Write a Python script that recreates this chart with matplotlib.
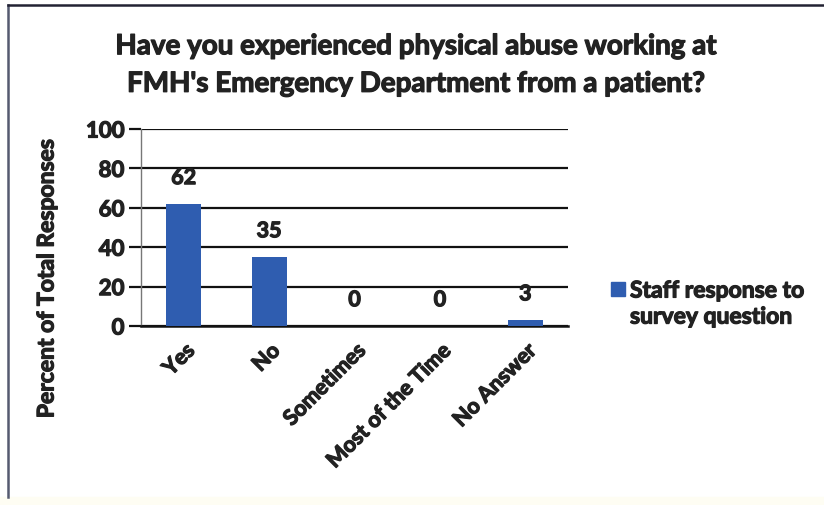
import matplotlib
matplotlib.use("Agg")
import matplotlib.pyplot as plt
import matplotlib.patheffects as pe
from matplotlib.patches import Rectangle
from matplotlib.lines import Line2D

categories = ["Yes", "No", "Sometimes", "Most of the Time", "No Answer"]
values = [62, 35, 0, 0, 3]
yticks = [0, 20, 40, 60, 80, 100]
title = "Have you experienced physical abuse working at\nFMH's Emergency Department from a patient?"
series_name = "Staff response to\nsurvey question"

plt.rcParams["font.family"] = ["Lato", "DejaVu Sans"]
plt.rcParams["font.weight"] = "bold"

txt_color = "#222222"
# scanned text looks heavier than a plain bold face
heavy = [pe.withStroke(linewidth=0.9, foreground=txt_color)]

W, H = 824, 506
fig = plt.figure(figsize=(W / 100, H / 100), dpi=100)
fig.patch.set_facecolor("white")

# plot area in pixel coordinates (left, top, right, bottom)
px_l, px_t, px_r, px_b = 141, 130, 568, 327
ax = fig.add_axes([px_l / W, 1 - px_b / H, (px_r - px_l) / W, (px_b - px_t) / H])

bar_color = "#2F5DB0"
x = range(len(categories))
ax.bar(x, values, width=0.41, color=bar_color, zorder=3)
ax.set_xlim(-0.5, len(categories) - 0.5)
ax.set_ylim(0, 100)

for xi, v in zip(x, values):
    ax.text(xi, v + 8, str(v), ha="center", va="bottom", fontsize=15.5,
            fontweight="bold", color=txt_color, path_effects=heavy)

ax.set_yticks(yticks)
ax.set_yticklabels([str(t) for t in yticks], fontsize=16, fontweight="bold", color=txt_color,
                   path_effects=heavy)
ax.tick_params(axis="y", length=9, width=1.6, color="#111111", pad=3)
ax.tick_params(axis="x", length=0, pad=10)
ax.set_xticks(list(x))
ax.set_xticklabels(categories, rotation=45, ha="right", rotation_mode="anchor",
                   fontsize=15.5, fontweight="bold", color=txt_color, path_effects=heavy)

ax.grid(axis="y", color="#111111", linewidth=1.6, zorder=0)
for s in ["top", "right"]:
    ax.spines[s].set_visible(False)
ax.spines["left"].set_color("#777777")
ax.spines["left"].set_linewidth(1.0)
ax.spines["bottom"].set_color("#111111")
ax.spines["bottom"].set_linewidth(1.8)

fig.text(47 / W, 1 - 280 / H, "Percent of Total Responses", rotation=90,
         ha="center", va="center", fontsize=16.5, fontweight="bold", color=txt_color,
         path_effects=heavy)

fig.text(416 / W, 1 - 66 / H, title, ha="center", va="center", fontsize=20,
         fontweight="bold", color=txt_color, linespacing=1.55, path_effects=heavy)

# legend
fig.patches.append(Rectangle((611 / W, 1 - 297 / H), 14 / W, 14 / H,
                             transform=fig.transFigure, color=bar_color))
fig.text(630 / W, 1 - 305 / H, series_name, ha="left", va="center", fontsize=16.5,
         fontweight="bold", color=txt_color, linespacing=1.3, path_effects=heavy)

# chart border (scan)
fig.add_artist(Line2D([8 / W, 8 / W], [1 - 6 / H, 1 - 498 / H], transform=fig.transFigure,
                      color="#555a70", linewidth=1.8))
fig.add_artist(Line2D([8 / W, 1], [1 - 6 / H, 1 - 6 / H], transform=fig.transFigure,
                      color="#222233", linewidth=1.8))
fig.patches.append(Rectangle((0, 0), 1, 8 / H, transform=fig.transFigure,
                             color="#fefdf3", zorder=-1))

fig.savefig("out.png", dpi=100)
